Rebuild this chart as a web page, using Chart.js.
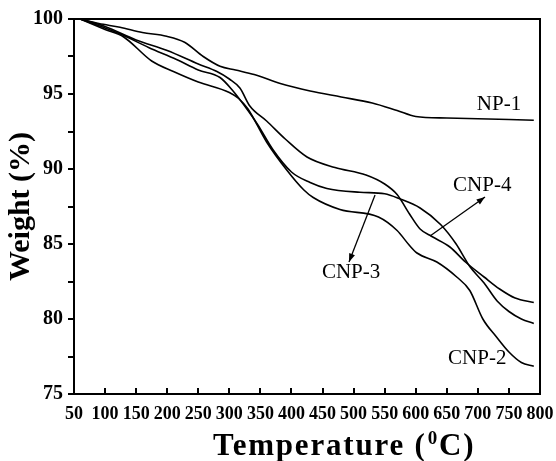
<!DOCTYPE html>
<html>
<head>
<meta charset="utf-8">
<script src="https://cdn.jsdelivr.net/npm/chart.js@4.4.1/dist/chart.umd.min.js"></script>
<style>
  html, body { margin: 0; padding: 0; background: #fff; }
  #wrap { width: 556px; height: 461px; }
</style>
</head>
<body>
<div id="wrap"><canvas id="c" width="556" height="461"></canvas></div>
<script>
// ---- data (temperature °C, weight %) ----
const np1T  = [60, 90, 124, 160, 199, 228, 258, 285, 310, 340, 382, 430, 480, 530, 570, 600, 650, 700, 750, 790];
const np1W  = [100, 99.7, 99.45, 99.1, 98.85, 98.45, 97.5, 96.85, 96.6, 96.3, 95.7, 95.2, 94.8, 94.4, 93.9, 93.5, 93.4, 93.35, 93.3, 93.25];

const cnp4T = [60, 100, 150, 200, 250, 280, 300, 317, 333, 360, 390, 425, 470, 520, 550, 570, 590, 607, 626, 655, 680, 710, 735, 760, 790];
const cnp4W = [100, 99.5, 98.6, 97.9, 97.0, 96.5, 96.0, 95.4, 94.2, 93.2, 92.0, 90.8, 90.1, 89.6, 89.0, 88.3, 87.0, 86.0, 85.5, 84.8, 83.8, 82.8, 82.0, 81.4, 81.1];

const cnp3T = [60, 100, 130, 170, 215, 250, 285, 306, 330, 345, 370, 400, 430, 457, 510, 550, 575, 607, 640, 665, 687, 710, 731, 750, 770, 790];
const cnp3W = [100, 99.4, 98.9, 98.1, 97.3, 96.6, 96.1, 95.2, 93.9, 93.0, 91.3, 89.8, 89.1, 88.7, 88.45, 88.35, 88.0, 87.4, 86.3, 85.0, 83.5, 82.4, 81.2, 80.5, 80.0, 79.7];

const cnp2T = [60, 100, 130, 175, 210, 250, 300, 315, 330, 360, 393, 420, 435, 478, 540, 570, 590, 602, 634, 666, 687, 708, 730, 750, 770, 790];
const cnp2W = [100, 99.3, 98.8, 97.2, 96.5, 95.8, 95.1, 94.7, 94.0, 91.8, 89.9, 88.6, 88.1, 87.3, 86.8, 85.9, 84.9, 84.4, 83.8, 82.8, 81.9, 80.0, 78.8, 77.8, 77.1, 76.85];

const xTicks = [50, 100, 150, 200, 250, 300, 350, 400, 450, 500, 550, 600, 650, 700, 750, 800];
const yTicks = [75, 80, 85, 90, 95, 100];

// axis titles
const xTitleParts = ["Temperature (", "0", "C)"];   // middle part is a superscript
const yTitle = "Weight (%)";

// annotation text and anchors (data coordinates)
const labelText = ["NP-1", "CNP-4", "CNP-3", "CNP-2"];
const labelT    = [734, 707, 496, 699];
const labelW    = [94.33, 88.93, 83.13, 77.4];
// arrows: [fromT, fromW, toT, toW]
const arrows = [
  [534.5, 88.27, 492.6, 83.8],   // to CNP-3 label
  [623, 85.53, 711.5, 88.13]     // to CNP-4 label
];

const toXY = (ts, ws) => ts.map((t, i) => ({x: t, y: ws[i]}));

const series = [
  {label: "NP-1",  data: toXY(np1T, np1W)},
  {label: "CNP-4", data: toXY(cnp4T, cnp4W)},
  {label: "CNP-3", data: toXY(cnp3T, cnp3W)},
  {label: "CNP-2", data: toXY(cnp2T, cnp2W)}
];

const SERIF = "'Liberation Serif', 'Times New Roman', serif";

const framePlugin = {
  id: 'frame',
  afterDatasetsDraw(chart) {
    const {ctx, chartArea: a, scales} = chart;
    ctx.save();
    ctx.strokeStyle = '#000';
    ctx.lineWidth = 2;
    ctx.strokeRect(a.left, a.top, a.right - a.left, a.bottom - a.top);
    // inward x ticks
    xTicks.forEach(v => {
      const px = Math.round(scales.x.getPixelForValue(v));
      ctx.beginPath();
      ctx.moveTo(px, a.bottom);
      ctx.lineTo(px, a.bottom - 6);
      ctx.stroke();
    });
    // series labels
    ctx.fillStyle = '#000';
    ctx.font = "21px " + SERIF;
    ctx.textAlign = 'center';
    ctx.textBaseline = 'middle';
    labelText.forEach((t, i) => {
      ctx.fillText(t, scales.x.getPixelForValue(labelT[i]), scales.y.getPixelForValue(labelW[i]));
    });
    // arrows
    ctx.lineWidth = 1.3;
    arrows.forEach(a2 => {
      const x1 = scales.x.getPixelForValue(a2[0]), y1 = scales.y.getPixelForValue(a2[1]);
      const x2 = scales.x.getPixelForValue(a2[2]), y2 = scales.y.getPixelForValue(a2[3]);
      ctx.beginPath(); ctx.moveTo(x1, y1); ctx.lineTo(x2, y2); ctx.stroke();
      const ang = Math.atan2(y2 - y1, x2 - x1), L = 9, W = 0.35;
      ctx.beginPath();
      ctx.moveTo(x2, y2);
      ctx.lineTo(x2 - L * Math.cos(ang - W), y2 - L * Math.sin(ang - W));
      ctx.lineTo(x2 - L * Math.cos(ang + W), y2 - L * Math.sin(ang + W));
      ctx.closePath(); ctx.fill();
    });
    // x axis title with superscript
    ctx.textAlign = 'left';
    ctx.textBaseline = 'alphabetic';
    try { ctx.letterSpacing = '1.8px'; } catch (e) {}
    const base = a.bottom + 61;
    let x = a.left + 139;
    ctx.font = "bold 31px " + SERIF;
    ctx.fillText(xTitleParts[0], x, base);
    x += ctx.measureText(xTitleParts[0]).width + 1;
    ctx.font = "bold 19px " + SERIF;
    ctx.fillText(xTitleParts[1], x, base - 11);
    x += ctx.measureText(xTitleParts[1]).width;
    ctx.font = "bold 31px " + SERIF;
    ctx.fillText(xTitleParts[2], x, base);
    try { ctx.letterSpacing = '0px'; } catch (e) {}
    ctx.restore();
  }
};

new Chart(document.getElementById('c'), {
  type: 'line',
  data: {
    datasets: series.map(s => ({
      label: s.label,
      data: s.data,
      borderColor: '#000',
      backgroundColor: '#000',
      borderWidth: 1.6,
      pointRadius: 0,
      fill: false,
      cubicInterpolationMode: 'monotone'
    }))
  },
  options: {
    responsive: false,
    animation: false,
    devicePixelRatio: 1,
    layout: {padding: {top: 19, right: 16, left: 0, bottom: 0}},
    plugins: {legend: {display: false}, tooltip: {enabled: false}},
    scales: {
      x: {
        type: 'linear', min: 50, max: 800,
        afterBuildTicks: sc => { sc.ticks = xTicks.map(v => ({value: v})); },
        afterFit: sc => { sc.height = 67; sc.paddingLeft = 0; sc.paddingRight = 0; },
        grid: {display: false, drawTicks: false},
        border: {display: false},
        ticks: {
          autoSkip: false, maxRotation: 0, padding: 10, color: '#000',
          font: {family: SERIF, size: 18, weight: 'bold'}
        },
        title: {display: false}
      },
      y: {
        type: 'linear', min: 75, max: 100,
        afterBuildTicks: sc => {
          const t = [];
          for (let v = 75; v <= 100; v += 2.5) t.push({value: v});
          sc.ticks = t;
        },
        afterFit: sc => { sc.width = 74; sc.paddingTop = 0; sc.paddingBottom = 0; },
        grid: {display: true, drawOnChartArea: false, drawTicks: true, tickLength: 6, color: '#000', lineWidth: 2},
        border: {display: false},
        ticks: {
          padding: 5, color: '#000',
          font: {family: SERIF, size: 20, weight: 'bold'},
          callback: v => (yTicks.includes(v) ? String(v) : '')
        },
        title: {
          display: true, text: yTitle, color: '#000',
          font: {family: SERIF, size: 30, weight: 'bold', lineHeight: 1},
          padding: {top: 6, bottom: 0}
        }
      }
    }
  },
  plugins: [framePlugin]
});
</script>
</body>
</html>
